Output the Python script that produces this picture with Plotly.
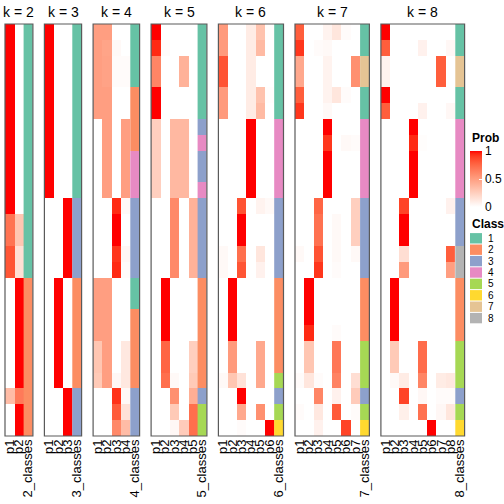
import plotly.graph_objects as go

# ---------------- data ----------------
ks = [2, 3, 4, 5, 6, 7, 8]
panel_titles = ["k = 2", "k = 3", "k = 4", "k = 5", "k = 6", "k = 7", "k = 8"]
class_names = ["1", "2", "3", "4", "5", "6", "7", "8"]
class_colors = ["#66C2A5", "#FC8D62", "#8DA0CB", "#E78AC3",
                "#A6D854", "#FFD92F", "#E5C494", "#B3B3B3"]

probs_k2 = [[1, 0]] * 12 + [[0.7, 0.3]] * 2 + [[0.82, 0.16]] * 2 + [[0, 1]] * 7 + \
           [[0.35, 0.67]] + [[0, 1]] * 2
classes_k2 = [1] * 16 + [2] * 10

probs_k3 = [[1, 0, 0]] * 11 + [[0, 0, 1]] * 5 + [[0, 1, 0]] * 7 + [[0, 0, 1]] * 3
classes_k3 = [1] * 11 + [3] * 5 + [2] * 7 + [3] * 3

probs_k4 = [[0.5, 0.5, 0, 0], [0.5, 0.47, 0.03, 0],
            [0.5, 0.48, 0.02, 0.02], [0.5, 0.48, 0.02, 0.02],
            [0.5, 0.5, 0, 0], [0.5, 0.5, 0, 0]] + \
           [[0, 0.5, 0, 0.5]] * 5 + \
           [[0, 0, 0.95, 0.03], [0, 0, 1, 0], [0, 0, 1, 0],
            [0, 0, 0.92, 0.04], [0, 0, 0.95, 0.02]] + \
           [[0.5, 0.5, 0, 0]] * 4 + \
           [[0.3, 0.5, 0, 0.12], [0.3, 0.5, 0, 0.12], [0.28, 0.5, 0.04, 0.12],
            [0, 0, 0.93, 0.03], [0, 0, 0.8, 0.15], [0, 0, 0.6, 0.35]]
classes_k4 = [1, 1, 1, 1, 2, 2, 2, 2, 4, 4, 4, 3, 3, 3, 3, 3,
              1, 1, 2, 2, 2, 2, 2, 3, 3, 3]

probs_k5 = [[1, 0, 0, 0, 0], [0.95, 0.02, 0, 0, 0],
            [0.62, 0, 0, 0.4, 0], [0.62, 0, 0, 0.4, 0],
            [1, 0, 0, 0, 0], [1, 0, 0, 0, 0]] + \
           [[0.25, 0, 0.37, 0.37, 0]] * 5 + \
           [[0, 0, 0.6, 0, 0.4]] * 5 + \
           [[0, 1, 0, 0, 0]] * 4 + \
           [[0, 0.76, 0, 0, 0.25], [0, 0.76, 0, 0, 0.25], [0, 0.72, 0.03, 0, 0.28],
            [0, 0, 0.57, 0, 0.42], [0, 0, 0.28, 0, 0.72], [0, 0, 0.04, 0.27, 0.72]]
classes_k5 = [1, 1, 1, 1, 1, 1, 3, 4, 3, 3, 4, 3, 3, 3, 3, 3,
              2, 2, 2, 2, 2, 2, 2, 3, 5, 5]

probs_k6 = [[0.52, 0, 0, 0.1, 0.32, 0.01], [0.52, 0, 0, 0.1, 0.36, 0],
            [0.83, 0, 0, 0.1, 0, 0], [0.83, 0, 0, 0.1, 0, 0],
            [0.52, 0, 0, 0.1, 0.32, 0.01], [0.52, 0, 0, 0.1, 0.36, 0]] + \
           [[0, 0, 0, 1, 0, 0]] * 5 + \
           [[0, 0, 0.83, 0, 0.06, 0.03], [0, 0, 1, 0, 0, 0], [0, 0, 1, 0, 0, 0],
            [0.03, 0, 0.72, 0, 0.13, 0], [0.03, 0, 0.82, 0, 0.07, 0]] + \
           [[0, 1, 0, 0, 0, 0]] * 4 + \
           [[0, 0.52, 0, 0, 0.45, 0], [0, 0.52, 0, 0, 0.45, 0],
            [0.03, 0.3, 0.15, 0, 0.45, 0], [0, 0, 1, 0, 0, 0],
            [0, 0, 0.45, 0, 0.57, 0], [0, 0, 0.02, 0, 0, 1]]
classes_k6 = [1] * 6 + [4] * 5 + [3] * 5 + [2] * 6 + [5, 3, 5, 6]

probs_k7 = [[0.79, 0, 0, 0.06, 0.13, 0.02, 0], [0.92, 0, 0.02, 0.03, 0, 0, 0],
            [0.45, 0, 0, 0.06, 0, 0, 0.57], [0.45, 0, 0, 0.06, 0, 0, 0.57],
            [0.79, 0, 0, 0.06, 0.13, 0.02, 0], [0.92, 0, 0, 0.03, 0, 0, 0],
            [0, 0, 0, 1, 0, 0, 0], [0, 0, 0, 0.92, 0, 0.03, 0.02],
            [0, 0, 0, 1, 0, 0, 0], [0, 0, 0, 1, 0, 0, 0], [0, 0, 0, 1, 0, 0, 0],
            [0, 0, 0.76, 0, 0, 0, 0.25], [0, 0, 0.71, 0, 0.03, 0, 0.25],
            [0, 0, 0.71, 0, 0.03, 0, 0.25], [0.03, 0, 0.83, 0, 0.03, 0, 0.03],
            [0, 0, 0.92, 0, 0.02, 0, 0],
            [0, 1, 0, 0, 0, 0, 0], [0, 1, 0, 0, 0, 0, 0], [0, 1, 0, 0, 0, 0, 0],
            [0, 0.95, 0, 0, 0.02, 0, 0],
            [0, 0.3, 0, 0, 0.68, 0, 0], [0, 0.3, 0, 0, 0.68, 0, 0],
            [0.02, 0.13, 0.02, 0, 0.63, 0, 0.17], [0, 0, 0.62, 0, 0.07, 0, 0.27],
            [0.02, 0, 0.12, 0, 0.8, 0, 0.02], [0, 0, 0.07, 0, 0, 0.88, 0]]
classes_k7 = [1, 1, 7, 7, 1, 1, 4, 4, 4, 4, 4, 3, 3, 3, 3, 3,
              2, 2, 2, 2, 5, 5, 5, 3, 5, 6]

probs_k8 = [[1, 0, 0, 0, 0, 0, 0, 0], [0.79, 0, 0, 0, 0.07, 0, 0, 0.04],
            [0.06, 0, 0, 0, 0, 0, 0.79, 0], [0.06, 0, 0, 0, 0, 0, 0.79, 0],
            [1, 0, 0, 0, 0, 0, 0, 0], [0.79, 0, 0, 0, 0.07, 0, 0, 0.04],
            [0, 0, 0, 1, 0, 0, 0, 0], [0, 0, 0, 0.95, 0.01, 0, 0, 0],
            [0, 0, 0, 1, 0, 0, 0, 0], [0, 0, 0, 1, 0, 0, 0, 0], [0, 0, 0, 1, 0, 0, 0, 0],
            [0, 0, 0.88, 0, 0, 0, 0, 0.07], [0, 0, 1, 0, 0, 0, 0, 0],
            [0, 0, 1, 0, 0, 0, 0, 0],
            [0, 0, 0.17, 0, 0, 0, 0, 0.79], [0, 0, 0.52, 0, 0, 0, 0, 0.5],
            [0, 1, 0, 0, 0, 0, 0, 0], [0, 1, 0, 0, 0, 0, 0, 0],
            [0, 1, 0, 0, 0, 0, 0, 0], [0, 1, 0, 0, 0, 0, 0, 0],
            [0, 0.28, 0, 0, 0.73, 0, 0, 0], [0, 0.28, 0, 0, 0.73, 0, 0, 0],
            [0, 0.03, 0.1, 0, 0.62, 0, 0.1, 0.12], [0, 0, 0.88, 0, 0.04, 0, 0.02, 0.02],
            [0, 0, 0.08, 0, 0.71, 0, 0.04, 0.13], [0, 0, 0, 0, 0, 1, 0, 0]]
classes_k8 = [1, 1, 7, 7, 1, 1, 4, 4, 4, 4, 4, 3, 3, 3, 8, 8,
              2, 2, 2, 2, 5, 5, 5, 3, 5, 6]

all_probs = [probs_k2, probs_k3, probs_k4, probs_k5, probs_k6, probs_k7, probs_k8]
all_classes = [classes_k2, classes_k3, classes_k4, classes_k5, classes_k6, classes_k7, classes_k8]

# ---------------- style helpers ----------------
W = H = 504
FONT = "Liberation Sans, Arial, Helvetica, sans-serif"


def lab_to_rgb(L, a, b):
    fy = (L + 16) / 116
    fx = fy + a / 500
    fz = fy - b / 200

    def finv(t):
        return t ** 3 if t ** 3 > 0.008856 else (t - 16 / 116) / 7.787
    X, Y, Z = 0.95047 * finv(fx), 1.0 * finv(fy), 1.08883 * finv(fz)
    r = 3.2406 * X - 1.5372 * Y - 0.4986 * Z
    g = -0.9689 * X + 1.8758 * Y + 0.0415 * Z
    bb = 0.0557 * X - 0.2040 * Y + 1.0570 * Z

    def gam(c):
        c = min(max(c, 0), 1)
        return 12.92 * c if c <= 0.0031308 else 1.055 * c ** (1 / 2.4) - 0.055
    return "rgb(%d,%d,%d)" % tuple(round(255 * gam(c)) for c in (r, g, bb))


white_lab = (100.0, 0.0, 0.0)
red_lab = (53.24, 80.09, 67.20)
prob_scale = []
for i in range(21):
    t = i / 20
    prob_scale.append([t, lab_to_rgb(*[w + (r - w) * t for w, r in zip(white_lab, red_lab)])])

class_scale = []
for i, c in enumerate(class_colors):
    class_scale.append([i / 8, c])
    class_scale.append([(i + 1) / 8, c])

fig = go.Figure()

x_start, colw, gap = 5.0, 9.3, 11.5
top_px, bot_px = 24.0, 436.0
ydom = [1 - bot_px / H, 1 - top_px / H]
shapes = []
annotations = []

x0 = x_start
for i, k in enumerate(ks):
    n = i + 1
    xa = "x" if n == 1 else "x%d" % n
    ya = "y" if n == 1 else "y%d" % n
    width_px = (k + 1) * colw
    x1 = x0 + width_px
    probs = all_probs[i]
    classes = all_classes[i]
    fig.add_trace(go.Heatmap(
        z=probs, x=list(range(k)), y=list(range(len(probs))),
        coloraxis="coloraxis", xaxis=xa, yaxis=ya,
        hovertemplate="p%{x}: %{z}<extra></extra>"))
    fig.add_trace(go.Heatmap(
        z=[[c] for c in classes], x=[k], y=list(range(len(classes))),
        colorscale=class_scale, zmin=0.5, zmax=8.5, showscale=False,
        xaxis=xa, yaxis=ya, hovertemplate="class %{z}<extra></extra>"))
    ticktext = ["p%d" % (j + 1) for j in range(k)] + ["%d_classes" % k]
    fig.layout[("xaxis" if n == 1 else "xaxis%d" % n)] = dict(
        domain=[x0 / W, x1 / W], range=[-0.5, k + 0.5], anchor=ya,
        tickmode="array", tickvals=list(range(k + 1)), ticktext=ticktext,
        tickangle=-90, tickfont=dict(size=13, color="black", family=FONT),
        showgrid=False, zeroline=False, showline=False, ticks="", fixedrange=True,
        automargin=False)
    fig.layout[("yaxis" if n == 1 else "yaxis%d" % n)] = dict(
        domain=ydom, range=[len(probs) - 0.5, -0.5], anchor=xa,
        showticklabels=False, showgrid=False, zeroline=False, showline=False,
        ticks="", fixedrange=True, automargin=False)
    shapes.append(dict(type="rect", xref="paper", yref="paper",
                       x0=x0 / W, x1=x1 / W, y0=ydom[0], y1=ydom[1],
                       line=dict(color="#5a5a5a", width=1.2), fillcolor="rgba(0,0,0,0)"))
    annotations.append(dict(text=panel_titles[i], xref="paper", yref="paper",
                            x=(x0 + x1) / 2 / W, y=1 - 12 / H, showarrow=False,
                            xanchor="center", yanchor="middle",
                            font=dict(size=14, color="black", family=FONT)))
    x0 = x1 + gap

# legends
leg_x = 470.0
annotations.append(dict(text="<b>Prob</b>", xref="paper", yref="paper",
                        x=leg_x / W, y=1 - 138 / H, showarrow=False,
                        xanchor="left", yanchor="middle",
                        font=dict(size=12, color="black", family=FONT)))
annotations.append(dict(text="<b>Class</b>", xref="paper", yref="paper",
                        x=leg_x / W, y=1 - 224 / H, showarrow=False,
                        xanchor="left", yanchor="middle",
                        font=dict(size=12, color="black", family=FONT)))
for j, (name, col) in enumerate(zip(class_names, class_colors)):
    cy = 238.3 + 11.4 * j
    shapes.append(dict(type="rect", xref="paper", yref="paper",
                       x0=leg_x / W, x1=(leg_x + 12) / W,
                       y0=1 - (cy + 5.2) / H, y1=1 - (cy - 5.2) / H,
                       line=dict(width=0), fillcolor=col))
    annotations.append(dict(text=name, xref="paper", yref="paper",
                            x=(leg_x + 16) / W, y=1 - cy / H, showarrow=False,
                            xanchor="left", yanchor="middle",
                            font=dict(size=10, color="black", family=FONT)))

fig.update_layout(
    width=W, height=H, margin=dict(l=0, r=0, t=0, b=0, pad=0, autoexpand=False),
    paper_bgcolor="white", plot_bgcolor="white", showlegend=False,
    font=dict(family=FONT, color="black"),
    coloraxis=dict(
        colorscale=prob_scale, cmin=0, cmax=1,
        colorbar=dict(
            thickness=12, len=56, lenmode="pixels",
            x=leg_x / W, xanchor="left", xref="paper",
            y=1 - 151 / H, yanchor="top", yref="paper",
            xpad=0, ypad=0, outlinewidth=0,
            tickmode="array", tickvals=[0, 0.5, 1], ticktext=["0", "0.5", "1"],
            ticks="inside", ticklen=3, tickcolor="white",
            tickfont=dict(size=12, family=FONT, color="black"))),
    shapes=shapes, annotations=annotations)

fig.write_html("out.html", config={"displayModeBar": False},
               post_script="document.body.style.margin='0';document.body.style.overflow='hidden';")
